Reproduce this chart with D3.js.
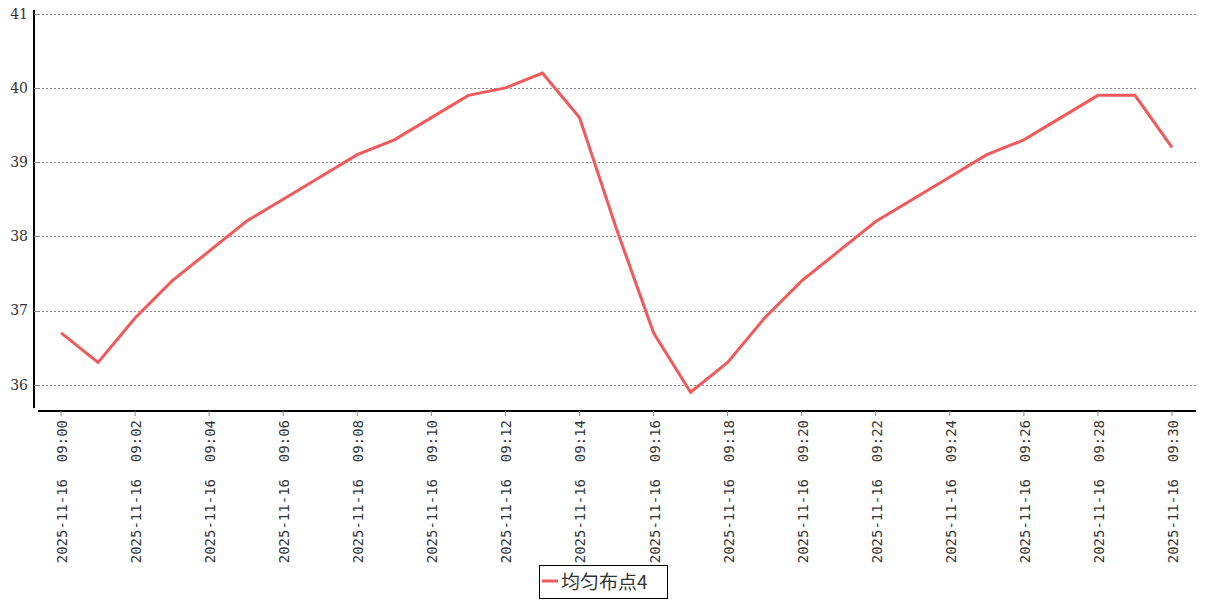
<!DOCTYPE html>
<html><head><meta charset="utf-8">
<script src="https://cdn.jsdelivr.net/npm/d3@7"></script>
<style>body{margin:0;background:#fff}</style>
</head><body><svg id="c" width="1207" height="600"></svg>
<script>
const seriesName = "均匀布点4";
const times = ["09:00","09:01","09:02","09:03","09:04","09:05","09:06","09:07","09:08","09:09","09:10","09:11","09:12","09:13","09:14","09:15","09:16","09:17","09:18","09:19","09:20","09:21","09:22","09:23","09:24","09:25","09:26","09:27","09:28","09:29","09:30"];
const values = [36.7,36.3,36.9,37.4,37.8,38.2,38.5,38.8,39.1,39.3,39.6,39.9,40.0,40.2,39.6,38.1,36.7,35.9,36.3,36.9,37.4,37.8,38.2,38.5,38.8,39.1,39.3,39.6,39.9,39.9,39.2];
const yTicks = [36,37,38,39,40,41];
const datePrefix = "2025-11-16";

const svg = d3.select("#c");
const x = d3.scalePoint().domain(times).range([61,1172]);
const y = d3.scaleLinear().domain([35.66,41.05]).range([410,10]);

// grid
svg.append("g").selectAll("line").data(yTicks).join("line")
  .attr("x1",38).attr("x2",1197).attr("y1",d=>Math.round(y(d))+0.5).attr("y2",d=>Math.round(y(d))+0.5)
  .attr("stroke","#888").attr("stroke-width",1).attr("stroke-dasharray","2,2");

// y axis
const ya = svg.append("g").attr("transform","translate(34,0)");
ya.append("line").attr("x1",0).attr("x2",0).attr("y1",10).attr("y2",408).attr("stroke","#000").attr("stroke-width",2);
ya.selectAll("line.t").data(yTicks).join("line").attr("class","t")
  .attr("x1",0).attr("x2",4).attr("y1",d=>Math.round(y(d))+0.5).attr("y2",d=>Math.round(y(d))+0.5).attr("stroke","#888");
ya.selectAll("text").data(yTicks).join("text")
  .attr("x",-6).attr("y",d=>y(d)).attr("dy","0.35em").attr("text-anchor","end")
  .attr("font-family","'DejaVu Serif', serif").attr("font-size",14).attr("fill","#333").text(d=>d);

// x axis
const xa = svg.append("g").attr("transform","translate(0,411)");
xa.append("line").attr("x1",38).attr("x2",1196).attr("y1",0).attr("y2",0).attr("stroke","#000").attr("stroke-width",2);
const xTickVals = times.filter((d,i)=>i%2===0);
xa.selectAll("line.t").data(xTickVals).join("line").attr("class","t")
  .attr("x1",d=>x(d)).attr("x2",d=>x(d)).attr("y1",0).attr("y2",5).attr("stroke","#888");
xa.selectAll("text").data(xTickVals).join("text")
  .attr("transform",d=>`translate(${x(d)+6},9) rotate(-90)`)
  .attr("text-anchor","end")
  .attr("font-family","'DejaVu Sans Mono', monospace").attr("font-size",14).attr("fill","#333")
  .attr("xml:space","preserve")
  .text(d=>datePrefix+"  "+d);

// line
svg.append("path").datum(values)
  .attr("d", d3.line().x((d,i)=>x(times[i])).y(d=>y(d)))
  .attr("fill","none").attr("stroke","#f05a5a").attr("stroke-width",3).attr("stroke-linejoin","miter");

// legend
const lg = svg.append("g");
lg.append("rect").attr("x",539.5).attr("y",565.5).attr("width",128).attr("height",33).attr("fill","#fff").attr("stroke","#000").attr("stroke-width",1);
lg.append("line").attr("x1",542).attr("x2",558).attr("y1",581).attr("y2",581).attr("stroke","#f05a5a").attr("stroke-width",3);
lg.append("text").attr("x",561).attr("y",582).attr("dy","0.35em")
  .attr("font-family","'Noto Sans CJK SC', sans-serif").attr("font-size",19).attr("fill","#333").text(seriesName);
</script></body></html>
